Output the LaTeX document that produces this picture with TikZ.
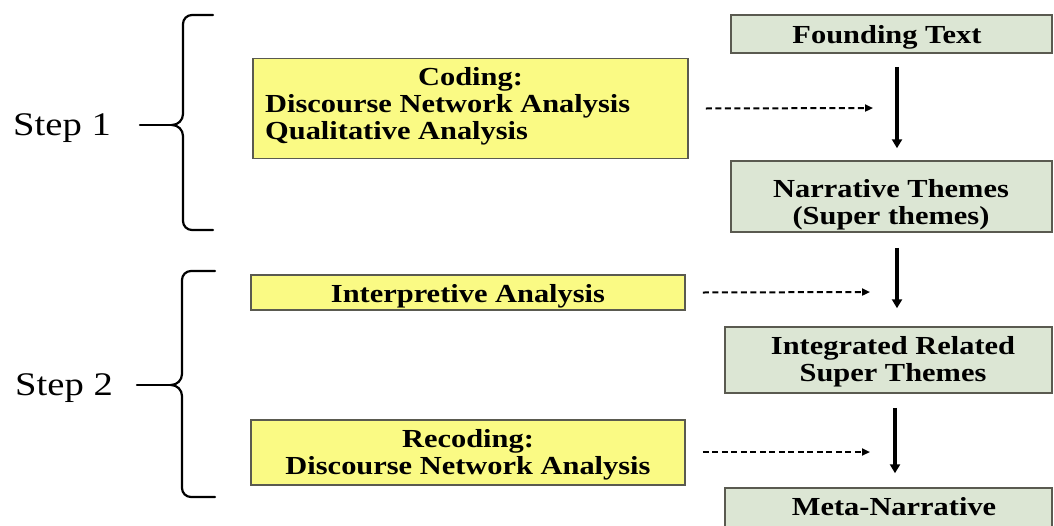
\documentclass[tikz,border=0pt]{standalone}
\usepackage{fontspec}
\setmainfont{Liberation Serif}[FakeStretch=1.17]
\usetikzlibrary{arrows.meta}
\definecolor{noteyellow}{HTML}{FAFA84}
\definecolor{themegreen}{HTML}{DCE6D4}
\definecolor{edgegray}{HTML}{5A5A50}
\tikzset{
  methodbox/.style={draw=edgegray, line width=1.5pt, fill=noteyellow, inner sep=0pt},
  themebox/.style={draw=edgegray, line width=1.5pt, fill=themegreen, inner sep=0pt},
  boxtext/.style={font=\fontsize{26}{27}\selectfont\bfseries, inner sep=0pt},
  steplabel/.style={font=\fontsize{33}{34}\selectfont, anchor=base west, inner sep=0pt},
  flow/.style={line width=3.4pt, -{Triangle[length=9pt,width=10pt]}},
  hint/.style={line width=2pt, dash pattern=on 6pt off 3.5pt, -{Triangle[length=8pt,width=7pt]}},
  brace/.style={line width=2.2pt, line cap=round}
}
\begin{document}
\begin{tikzpicture}[x=1pt,y=-1pt]
\useasboundingbox (0,0) rectangle (1054,525);

% method boxes (left column)
\node[methodbox, minimum width=435pt, minimum height=100pt] (coding) at (470.5,108.5) {};
\node[boxtext, anchor=base] (codinghead) at (470.5,85) {Coding:};
\node[boxtext, anchor=base west] (codingdna) at (265,112) {Discourse Network Analysis};
\node[boxtext, anchor=base west] (codingqual) at (265,139) {Qualitative Analysis};

\node[methodbox, minimum width=434pt, minimum height=35pt] (interp) at (468,292.5) {};
\node[boxtext, anchor=base] (interptxt) at (468,302) {Interpretive Analysis};

\node[methodbox, minimum width=434pt, minimum height=65pt] (recoding) at (468,452.5) {};
\node[boxtext, anchor=base] (recodinghead) at (468,447) {Recoding:};
\node[boxtext, anchor=base] (recodingdna) at (468,474) {Discourse Network Analysis};

% theme boxes (right column)
\node[themebox, minimum width=321pt, minimum height=38pt] (founding) at (891.5,34) {};
\node[boxtext, anchor=base] (foundingtxt) at (887,43) {Founding Text};

\node[themebox, minimum width=321pt, minimum height=71pt] (narrative) at (891.5,196.5) {};
\node[boxtext, anchor=base] (narrativea) at (891,197) {Narrative Themes};
\node[boxtext, anchor=base] (narrativeb) at (891,224) {(Super themes)};

\node[themebox, minimum width=327pt, minimum height=66pt] (integrated) at (888.5,360) {};
\node[boxtext, anchor=base] (integrateda) at (893,354) {Integrated Related};
\node[boxtext, anchor=base] (integratedb) at (893,381) {Super Themes};

\node[themebox, minimum width=327pt, minimum height=60pt] (meta) at (888.5,518) {};
\node[boxtext, anchor=base] (metatxt) at (894,515) {Meta-Narrative};

% main flow between theme boxes
\draw[flow] ([yshift=-13pt]founding.south -| 897,0) -- ([yshift=12pt]narrative.north -| 897,0);
\draw[flow] ([yshift=-15pt]narrative.south -| 897,0) -- ([yshift=18pt]integrated.north -| 897,0);
\draw[flow] ([yshift=-14pt]integrated.south -| 895,0) -- ([yshift=14pt]meta.north -| 895,0);

% method hints toward the flow
\coordinate (h1) at (873,108);
\coordinate (h2) at (870,292);
\coordinate (h3) at (870,452);
\draw[hint] ([xshift=17pt]coding.east) -- (h1);
\draw[hint] ([xshift=17pt]interp.east) -- (h2);
\draw[hint] ([xshift=17pt]recoding.east |- h3) -- (h3);

% step labels and braces
\node[steplabel] (step1) at (13,135) {Step 1};
\node[steplabel] (step2) at (15,395) {Step 2};

\draw[brace] (140,125) -- (172,125);
\draw[brace] (213,15) -- (192,15) to[out=180,in=90] (183,24) -- (183,114)
  to[out=-90,in=0] (172,125) to[out=0,in=90] (183,136) -- (183,221)
  to[out=-90,in=180] (192,230) -- (213,230);

\draw[brace] (137,385) -- (171,385);
\draw[brace] (215,271) -- (191,271) to[out=180,in=90] (182,280) -- (182,374)
  to[out=-90,in=0] (171,385) to[out=0,in=90] (182,396) -- (182,488)
  to[out=-90,in=180] (191,497) -- (215,497);
\end{tikzpicture}
\end{document}
